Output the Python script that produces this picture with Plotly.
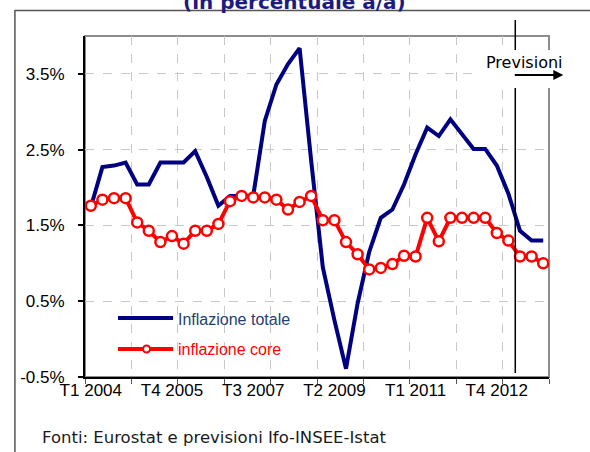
import plotly.graph_objects as go

# ---- data ----
years = list(range(2004, 2014))
quarters = [1, 2, 3, 4]
categories = [f"T{q} {y}" for y in years for q in quarters]

inflazione_totale = [1.74, 2.27, 2.29, 2.33, 2.04, 2.04, 2.33, 2.33, 2.33, 2.48,
                     2.14, 1.76, 1.89, 1.89, 1.89, 2.88, 3.36, 3.63, 3.84, 2.35,
                     0.95, 0.25, -0.39, 0.47, 1.15, 1.60, 1.71, 2.04, 2.44, 2.79,
                     2.68, 2.90, 2.71, 2.51, 2.51, 2.29, 1.92, 1.43, 1.30, 1.30]

inflazione_core = [1.76, 1.84, 1.86, 1.86, 1.54, 1.43, 1.28, 1.36, 1.26, 1.43,
                   1.43, 1.52, 1.82, 1.89, 1.87, 1.87, 1.84, 1.71, 1.81, 1.89,
                   1.57, 1.57, 1.28, 1.12, 0.92, 0.94, 0.99, 1.10, 1.09, 1.60,
                   1.29, 1.60, 1.60, 1.60, 1.60, 1.40, 1.30, 1.09, 1.09, 1.00]

label_step = 7
x_label_idx = list(range(0, len(categories), label_step))
x_label_text = [categories[i] for i in x_label_idx]

y_ticks = [-0.5, 0.5, 1.5, 2.5, 3.5]
y_tick_text = [f"{v:.1f}%" for v in y_ticks]

xs = list(range(len(categories)))

# ---- geometry helpers (pixel -> paper) ----
W, H = 590, 452
L, R, T, B = 85, 548.7, 36, 377


def px(x):
    return (x - L) / (R - L)


def py(y):
    return (B - y) / (B - T)


fig = go.Figure()
fig.add_trace(go.Scatter(
    x=xs, y=inflazione_totale, mode="lines", name="Inflazione totale",
    line=dict(color="#000080", width=4), hoverinfo="skip"))
fig.add_trace(go.Scatter(
    x=xs, y=inflazione_core, mode="lines+markers", name="inflazione core",
    line=dict(color="#ff0000", width=4),
    marker=dict(symbol="circle", size=10, color="white",
                line=dict(color="#ff0000", width=2.5)),
    hoverinfo="skip"))

tick_font = dict(family="Liberation Sans, Arial", size=17, color="black")

fig.update_layout(
    width=W, height=H,
    margin=dict(l=L, r=W - R, t=T, b=H - B, pad=0),
    paper_bgcolor="white", plot_bgcolor="white",
    showlegend=False,
    xaxis=dict(
        type="linear", range=[-0.5, len(categories) - 0.5],
        tickmode="array", tickvals=x_label_idx, ticktext=x_label_text,
        ticks="", showgrid=False, zeroline=False,
        showline=True, linecolor="black", linewidth=2,
        tickfont=tick_font, ticklabelstandoff=-3,
        minor=dict(tick0=-0.5, dtick=4, ticks="outside", ticklen=5,
                   tickcolor="#555555", tickwidth=1,
                   showgrid=True, gridcolor="#c8c8c8", griddash="dash",
                   gridwidth=1),
    ),
    yaxis=dict(
        range=[-0.5, 4.0],
        tickmode="array", tickvals=y_ticks, ticktext=y_tick_text,
        ticks="outside", ticklen=5, tickcolor="black", tickwidth=2,
        showgrid=True, gridcolor="#c8c8c8", griddash="dash", gridwidth=1,
        zeroline=False,
        showline=True, linecolor="black", linewidth=2,
        tickfont=tick_font, ticklabelstandoff=10,
    ),
)

shapes = []
# gray plot border (top/right)
shapes.append(dict(type="rect", xref="paper", yref="paper", x0=0, x1=1, y0=0, y1=1,
                   line=dict(color="#8c8c8c", width=2), layer="below"))
# outer frame
shapes.append(dict(type="line", xref="paper", yref="paper",
                   x0=px(15), x1=px(15), y0=py(10), y1=py(460),
                   line=dict(color="black", width=1)))
shapes.append(dict(type="line", xref="paper", yref="paper",
                   x0=px(15), x1=px(600), y0=py(10.5), y1=py(10.5),
                   line=dict(color="#555555", width=1.5)))
# forecast line
shapes.append(dict(type="line", xref="paper", yref="paper",
                   x0=px(515), x1=px(515), y0=py(20), y1=py(373),
                   line=dict(color="black", width=1.5)))
# white box behind label
shapes.append(dict(type="rect", xref="paper", yref="paper",
                   x0=px(481), x1=px(576), y0=py(88), y1=py(50),
                   fillcolor="white", line=dict(width=0)))

# manual legend
shapes.append(dict(type="line", xref="paper", yref="paper",
                   x0=px(118), x1=px(173), y0=py(318), y1=py(318),
                   line=dict(color="#000080", width=4)))
shapes.append(dict(type="line", xref="paper", yref="paper",
                   x0=px(118), x1=px(173), y0=py(349), y1=py(349),
                   line=dict(color="#ff0000", width=4)))
shapes.append(dict(type="circle", xref="paper", yref="paper",
                   x0=px(143), x1=px(150), y0=py(352.5), y1=py(345.5),
                   fillcolor="white", line=dict(color="#ff0000", width=2)))
fig.update_layout(shapes=shapes)

annotations = [
    dict(text="Inflazione totale", xref="paper", yref="paper", x=px(176), y=py(319),
         xanchor="left", yanchor="middle", showarrow=False,
         font=dict(family="Liberation Sans, Arial", size=16, color="#1f3f70")),
    dict(text="inflazione core", xref="paper", yref="paper", x=px(176), y=py(349),
         xanchor="left", yanchor="middle", showarrow=False,
         font=dict(family="Liberation Sans, Arial", size=16, color="#ff0000")),
    dict(text="Previsioni", xref="paper", yref="paper", x=px(524), y=py(62),
         xanchor="center", yanchor="middle", showarrow=False,
         font=dict(family="DejaVu Sans", size=16, color="black")),
    dict(text="", xref="paper", yref="paper", x=px(563), y=py(75),
         ax=-50, ay=0, showarrow=True, arrowhead=2, arrowsize=1, arrowwidth=2,
         arrowcolor="black"),
    dict(text="Fonti: Eurostat e previsioni Ifo-INSEE-Istat", xref="paper", yref="paper",
         x=px(40), y=py(437), xanchor="left", yanchor="middle", showarrow=False,
         font=dict(family="DejaVu Sans", size=16.5, color="#1a1a1a")),
    dict(text="<b>(in percentuale a/a)</b>", xref="paper", yref="paper",
         x=px(294), y=py(16), xanchor="center", yanchor="bottom", showarrow=False,
         font=dict(family="DejaVu Sans", size=20, color="#1c1c80")),
]
fig.update_layout(annotations=annotations)

fig.write_html("out.html",
               config={"displayModeBar": False},
               post_script="document.body.style.margin='0px';document.body.style.overflow='hidden';")
